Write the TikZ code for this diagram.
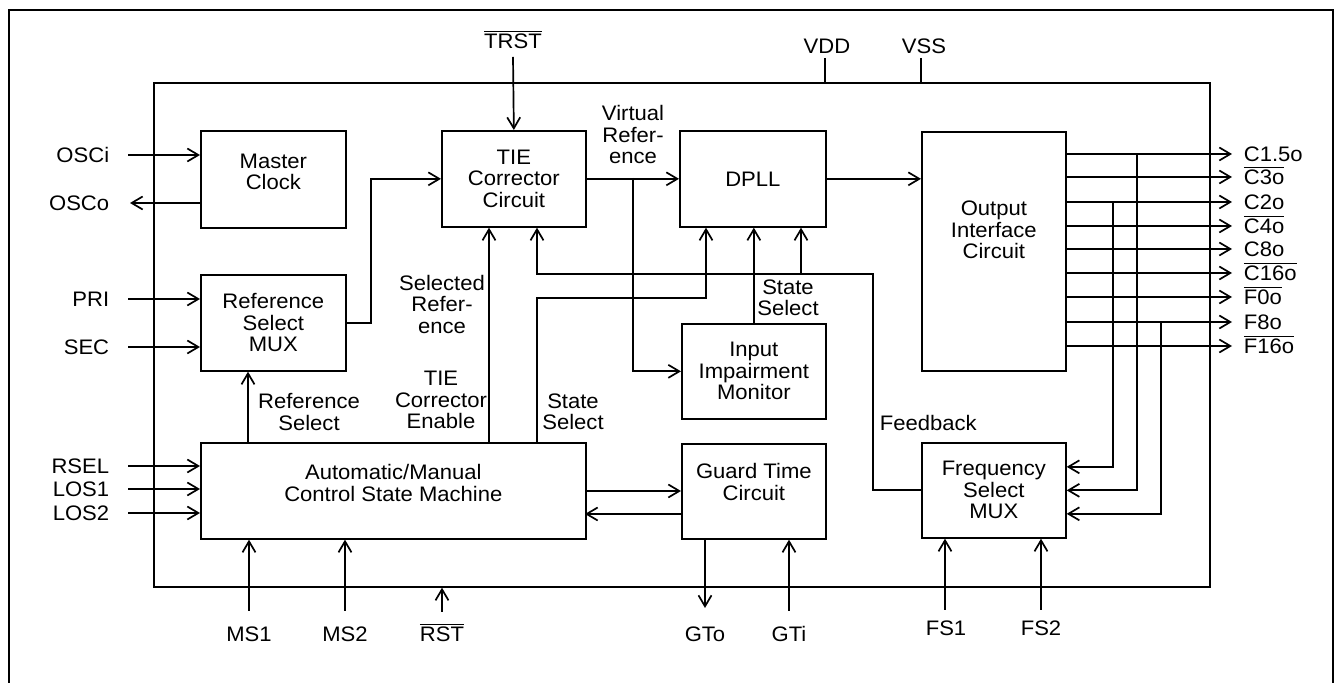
\documentclass[tikz,border=0pt]{standalone}
\usepackage{fontspec}
\setmainfont{Liberation Sans}[FakeStretch=1.05]
\usetikzlibrary{arrows.meta}
\newcommand{\olbar}[1]{$\overline{\hbox{#1}}$}
\begin{document}
\begin{tikzpicture}[x=0.5pt,y=-0.5pt, line width=0.85pt,
  every node/.style={font=\fontsize{10.5}{10.75}\selectfont, inner sep=0pt},
  blk/.style={draw, align=center, anchor=north west},
  arr/.style={-{Straight Barb[length=5.5pt,width=6.5pt]}},
  txt/.style={align=center},
  pinL/.style={anchor=base east},
  pinR/.style={anchor=base west}]
\useasboundingbox (0,0) rectangle (1340,683);
\clip (0,0) rectangle (1340,683);
% outer frame
\draw[line width=1.4pt] (9,700) -- (9,10) -- (1333,10) -- (1333,700);
% chip outline
\node[draw, anchor=north west, minimum width=528pt, minimum height=252pt] (chip) at (153,82) {};
% blocks
\node[blk, minimum width=72.5pt, minimum height=48.5pt,
  label={[align=center,yshift=3.75pt]center:Master\\Clock}] (mc) at (200,130) {};
\node[blk, minimum width=72.5pt, minimum height=48pt] (rsm) at (200,274) {Reference\\Select\\MUX};
\node[blk, minimum width=72pt, minimum height=48pt] (tie) at (441,130) {TIE\\Corrector\\Circuit};
\node[blk, minimum width=73pt, minimum height=48pt] (dpll) at (679,130) {DPLL};
\node[blk, minimum width=72pt, minimum height=119.5pt,
  label={[align=center,yshift=10.75pt]center:Output\\Interface\\Circuit}] (oic) at (921,131) {};
\node[blk, minimum width=72pt, minimum height=47.5pt] (iim) at (681,323) {Input\\Impairment\\Monitor};
\node[blk, minimum width=72pt, minimum height=47.5pt,
  label={[align=center,yshift=4.75pt]center:Guard Time\\Circuit}] (gtc) at (681,443) {};
\node[blk, minimum width=192.5pt, minimum height=48pt,
  label={[align=center,yshift=4pt]center:Automatic/Manual\\Control State Machine}] (acsm) at (200,442) {};
\node[blk, minimum width=72pt, minimum height=47.5pt] (fsm) at (921,442) {Frequency\\Select\\MUX};

% left pins
\node[pinL] (osci) at (110,162.5) {OSCi};
\node[pinL] (osco) at (110,210.5) {OSCo};
\node[pinL] (pri) at (110,306.5) {PRI};
\node[pinL] (sec) at (110,354.5) {SEC};
\node[pinL] (rsel) at (110,473.5) {RSEL};
\node[pinL] (los1) at (110,496.5) {LOS1};
\node[pinL] (los2) at (110,520.5) {LOS2};
\coordinate (osciP) at (128,155);
\coordinate (oscoP) at (130,203);
\coordinate (priP) at (128,299);
\coordinate (secP) at (128,347);
\coordinate (rselP) at (128,466);
\coordinate (los1P) at (128,489);
\coordinate (los2P) at (128,513);
\draw[arr] (osciP) -- (osciP -| mc.west);
\draw[arr] (oscoP -| mc.west) -- (oscoP);
\draw[arr] (priP) -- (priP -| rsm.west);
\draw[arr] (secP) -- (secP -| rsm.west);
\draw[arr] (rselP) -- (rselP -| acsm.west);
\draw[arr] (los1P) -- (los1P -| acsm.west);
\draw[arr] (los2P) -- (los2P -| acsm.west);

% top pins
\node[anchor=base] (trst) at (513,49) {\olbar{TRST}};
\node[anchor=base] (vdd) at (827,54) {VDD};
\node[anchor=base] (vss) at (924,54) {VSS};
\coordinate (trstP) at (513,57);
\coordinate (vddP) at (825,58);
\coordinate (vssP) at (921,58);
\draw[arr] (trstP) -- (tie.north);
\draw (vddP) -- (vddP |- chip.north);
\draw (vssP) -- (vssP |- chip.north);

% bottom pins
\node[anchor=base] (ms1) at (249,642) {MS1};
\node[anchor=base] (ms2) at (345,642) {MS2};
\node[anchor=base] (rst) at (442,642) {\olbar{RST}};
\node[anchor=base] (gto) at (705,642) {GTo};
\node[anchor=base] (gti) at (789,642) {GTi};
\node[anchor=base] (fs1) at (946,636) {FS1};
\node[anchor=base] (fs2) at (1041,636) {FS2};
\coordinate (ms1P) at (249,611);
\coordinate (ms2P) at (345,611);
\coordinate (rstP) at (442,612);
\coordinate (gtoP) at (705,608);
\coordinate (gtiP) at (789,611);
\coordinate (fs1P) at (945,610);
\coordinate (fs2P) at (1041,610);
\draw[arr] (ms1P) -- (ms1P |- acsm.south);
\draw[arr] (ms2P) -- (ms2P |- acsm.south);
\draw[arr] (rstP) -- (rstP |- chip.south);
\draw[arr] (gtoP |- gtc.south) -- (gtoP);
\draw[arr] (gtiP) -- (gtiP |- gtc.south);
\draw[arr] (fs1P) -- (fs1P |- fsm.south);
\draw[arr] (fs2P) -- (fs2P |- fsm.south);

% outputs
\node[pinR] (oa) at (1243,161.5) {C1.5o};
\node[pinR] (ob) at (1243,184.5) {\olbar{C3o}};
\node[pinR] (oc) at (1243,209.5) {C2o};
\node[pinR] (od) at (1243,233.5) {\olbar{C4o}};
\node[pinR] (oe) at (1243,256.5) {C8o};
\node[pinR] (of) at (1243,280.5) {\olbar{C16o}};
\node[pinR] (og) at (1243,304.5) {\olbar{F0o}};
\node[pinR] (oh) at (1243,329.5) {F8o};
\node[pinR] (oi) at (1243,353.5) {\olbar{F16o}};
\foreach \n/\y in {a/154,b/177,c/202,d/226,e/249,f/273,g/297,h/322,i/346}{
  \coordinate (p\n) at (1232,\y);
  \draw[arr] (oic.east |- p\n) -- (p\n);
}
% taps to frequency select mux
\coordinate (t1) at (1113,202);
\coordinate (t2) at (1137,154);
\coordinate (t3) at (1161,322);
\draw[arr] (t1) |- ([yshift=11.75pt]fsm.east);
\draw[arr] (t2) |- (fsm.east);
\draw[arr] (t3) |- ([yshift=-11.75pt]fsm.east);

% internal connections
\draw[arr] (rsm.east) -- ++(24,0) |- (tie.west);
\draw[arr] (tie.east) -- (dpll.west);
\coordinate (vr) at (633,178);
\draw[arr] (vr) |- (iim.west);
\draw[arr] (dpll.east) -- (dpll.east -| oic.west);
% feedback
\coordinate (fbc) at (873,274);
\coordinate (fbl) at (537,274);
\coordinate (fbd) at (801,274);
\draw[arr] (fsm.west) -| (fbc) -- (fbl) -- (fbl |- tie.south);
\draw[arr] (fbd) -- (fbd |- dpll.south);
% TIE corrector enable
\coordinate (tce) at (489,442);
\draw[arr] (tce) -- (tce |- tie.south);
% state select from ACSM
\coordinate (ssa) at (537,442);
\coordinate (ssb) at (706,298);
\draw[arr] (ssa) |- (ssb) -- (ssb |- dpll.south);
% state select from IIM
\draw[arr] (iim.north) -- (iim.north |- dpll.south);
% reference select
\coordinate (rs) at (248,442);
\draw[arr] (rs) -- (rs |- rsm.south);
% ACSM <-> guard time
\coordinate (ag1) at (585,491);
\coordinate (ag2) at (585,514);
\draw[arr] (ag1) -- (ag1 -| gtc.west);
\draw[arr] (ag2 -| gtc.west) -- (ag2);

% signal labels
\node[txt] (lvr) at (633,135) {Virtual\\Refer-\\ence};
\node[txt] (lsr) at (442,304) {Selected\\Refer-\\ence};
\node[txt] (lrs) at (309,412) {Reference\\Select};
\node[txt] (lte) at (441,400) {TIE\\Corrector\\Enable};
\node[txt] (lss1) at (573,412) {State\\Select};
\node[txt] (lss2) at (788,298) {State\\Select};
\node[anchor=base west] (lfb) at (879,431) {Feedback};
\end{tikzpicture}
\end{document}
